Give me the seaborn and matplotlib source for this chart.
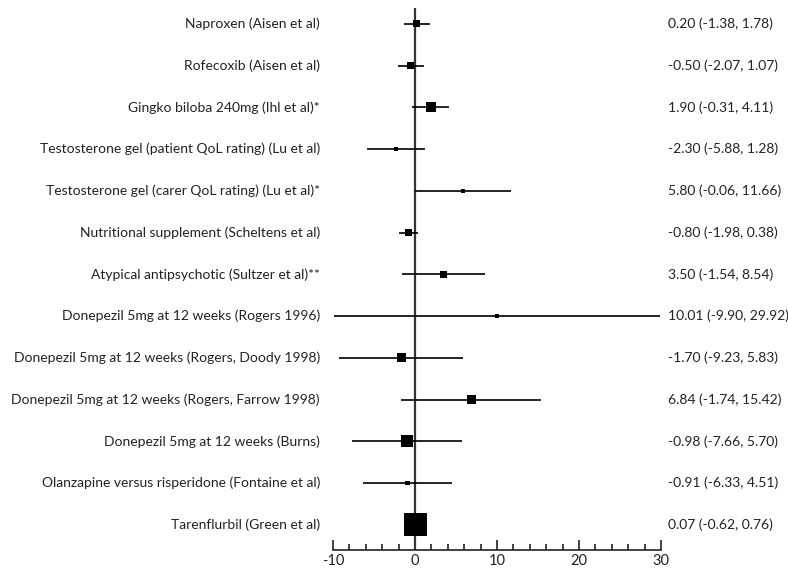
import matplotlib
matplotlib.use("Agg")
import matplotlib.pyplot as plt
import matplotlib.transforms as mtransforms
from matplotlib.ticker import MultipleLocator
import pandas as pd
import seaborn as sns

studies = [
    "Naproxen (Aisen et al)",
    "Rofecoxib (Aisen et al)",
    "Gingko biloba 240mg (Ihl et al)*",
    "Testosterone gel (patient QoL rating) (Lu et al)",
    "Testosterone gel (carer QoL rating) (Lu et al)*",
    "Nutritional supplement (Scheltens et al)",
    "Atypical antipsychotic (Sultzer et al)**",
    "Donepezil 5mg at 12 weeks (Rogers 1996)",
    "Donepezil 5mg at 12 weeks (Rogers, Doody 1998)",
    "Donepezil 5mg at 12 weeks (Rogers, Farrow 1998)",
    "Donepezil 5mg at 12 weeks (Burns)",
    "Olanzapine versus risperidone (Fontaine et al)",
    "Tarenflurbil (Green et al)",
]
estimate = [0.20, -0.50, 1.90, -2.30, 5.80, -0.80, 3.50, 10.01, -1.70, 6.84, -0.98, -0.91, 0.07]
lower = [-1.38, -2.07, -0.31, -5.88, -0.06, -1.98, -1.54, -9.90, -9.23, -1.74, -7.66, -6.33, -0.62]
upper = [1.78, 1.07, 4.11, 1.28, 11.66, 0.38, 8.54, 29.92, 5.83, 15.42, 5.70, 4.51, 0.76]
# relative study weight shown as square side (pixels)
weight_px = [7, 7, 10, 3.5, 4, 7, 7, 4, 9, 9, 12, 4.5, 23]

df = pd.DataFrame({"study": studies, "est": estimate, "lo": lower, "hi": upper, "w": weight_px})
df["row"] = range(len(df))

sns.set_style("white")
plt.rcParams["font.family"] = ["Lato", "DejaVu Sans"]
plt.rcParams["axes.unicode_minus"] = False

fig = plt.figure(figsize=(7.88, 5.76), dpi=100)
ax = fig.add_axes([333 / 788, 1 - 550 / 576, (661 - 333) / 788, (550 - 8) / 576])

ax.axvline(0, color="#333333", lw=1.6, zorder=1)
ax.hlines(df["row"], df["lo"], df["hi"], color="black", lw=1.2, zorder=2)
sns.scatterplot(data=df, x="est", y="row", marker="s", color="black",
                s=(df["w"] * 0.72) ** 2, edgecolor="none", linewidth=0, ax=ax, zorder=3)

ax.set_xlim(-10, 30)
ax.set_ylim(12.6, -0.38)
ax.xaxis.set_major_locator(MultipleLocator(10))
ax.xaxis.set_minor_locator(MultipleLocator(2))
ax.tick_params(axis="x", which="major", direction="in", length=7, width=1.2,
               labelsize=10.5, pad=3, color="#222222", labelcolor="#222222", bottom=True)
ax.tick_params(axis="x", which="minor", direction="in", length=4.5, width=1.2,
               color="#222222", bottom=True)
ax.set_yticks([])
ax.set_xlabel("")
ax.set_ylabel("")
for side in ["top", "right", "left"]:
    ax.spines[side].set_visible(False)
ax.spines["bottom"].set_linewidth(1.2)
ax.spines["bottom"].set_color("#222222")

trans = mtransforms.blended_transform_factory(ax.transAxes, ax.transData)
for r, name, e, lo, hi in zip(df["row"], studies, estimate, lower, upper):
    ax.text(-0.04, r, name, transform=trans, ha="right", va="center",
            fontsize=10, color="#222222")
    ax.text(1.021, r, f"{e:.2f} ({lo:.2f}, {hi:.2f})", transform=trans,
            ha="left", va="center", fontsize=10, color="#222222")

fig.savefig("out.png", dpi=100)
